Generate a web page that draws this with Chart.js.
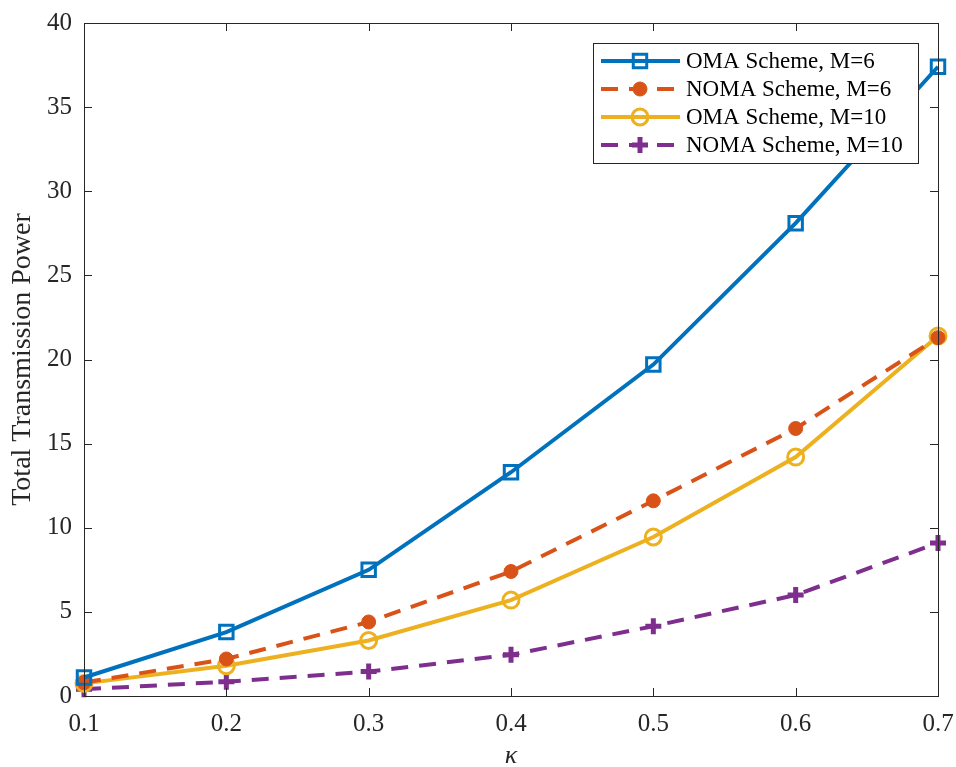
<!DOCTYPE html>
<html><head><meta charset="utf-8">
<script src="https://cdn.jsdelivr.net/npm/chart.js@4/dist/chart.umd.min.js"></script>
<style>html,body{margin:0;padding:0;background:#fff}#c{display:block}</style>
</head><body>
<canvas id="c" width="956" height="767"></canvas>
<script>
const kappa = [0.1, 0.2, 0.3, 0.4, 0.5, 0.6, 0.7];
const omaM6 = [1.1, 3.8, 7.5, 13.3, 19.7, 28.1, 37.4];
const nomaM6 = [0.8, 2.2, 4.4, 7.4, 11.6, 15.9, 21.3];
const omaM10 = [0.75, 1.8, 3.3, 5.7, 9.45, 14.2, 21.4];
const nomaM10 = [0.4, 0.85, 1.45, 2.45, 4.15, 6.0, 9.1];
const seriesNames = ['OMA Scheme, M=6', 'NOMA Scheme, M=6', 'OMA Scheme, M=10', 'NOMA Scheme, M=10'];
const yTicks = [0, 5, 10, 15, 20, 25, 30, 35, 40];

const FONT = "'Liberation Serif', 'Times New Roman', serif";
const pts = arr => kappa.map((k, i) => ({x: k, y: arr[i]}));

const styles = [
  {color: '#0072BD', dash: [], ps: 'rect', r: 9.5, fill: 'rgba(0,0,0,0)', bw: 3},
  {color: '#D95319', dash: [17, 11], ps: 'circle', r: 7, fill: '#D95319', bw: 1},
  {color: '#EDB120', dash: [], ps: 'circle', r: 8, fill: 'rgba(0,0,0,0)', bw: 3},
  {color: '#7E2F8E', dash: [17, 11], ps: 'cross', r: 8, fill: '#7E2F8E', bw: 5}
];
const dataArrs = [omaM6, nomaM6, omaM10, nomaM10];

const datasets = dataArrs.map((d, i) => ({
  label: seriesNames[i],
  data: pts(d),
  borderColor: styles[i].color,
  borderWidth: 4,
  borderDash: styles[i].dash,
  pointStyle: styles[i].ps,
  pointRadius: styles[i].r,
  pointHoverRadius: styles[i].r,
  pointBackgroundColor: styles[i].fill,
  pointBorderColor: styles[i].color,
  pointBorderWidth: styles[i].bw,
  tension: 0,
  clip: false,
  fill: false
}));

const framePlugin = {
  id: 'frame',
  afterDraw(chart) {
    const ctx = chart.ctx, a = chart.chartArea;
    const xs = chart.scales.x, ys = chart.scales.y;
    ctx.save();
    ctx.strokeStyle = '#262626';
    ctx.lineWidth = 1;
    ctx.strokeRect(Math.round(a.left) + 0.5, Math.round(a.top) + 0.5, Math.round(a.right - a.left), Math.round(a.bottom - a.top));
    const tl = 8;
    ctx.beginPath();
    kappa.forEach(k => {
      const px = Math.round(xs.getPixelForValue(k)) + 0.5;
      ctx.moveTo(px, a.bottom); ctx.lineTo(px, a.bottom - tl);
      ctx.moveTo(px, a.top); ctx.lineTo(px, a.top + tl);
    });
    yTicks.forEach(v => {
      const py = Math.round(ys.getPixelForValue(v)) + 0.5;
      ctx.moveTo(a.left, py); ctx.lineTo(a.left + tl, py);
      ctx.moveTo(a.right, py); ctx.lineTo(a.right - tl, py);
    });
    ctx.stroke();

    // legend
    const lx = 593, ly = 43, lw = 325, lh = 120;
    ctx.fillStyle = '#fff';
    ctx.fillRect(lx, ly, lw, lh);
    ctx.strokeStyle = '#262626';
    ctx.lineWidth = 1;
    ctx.strokeRect(lx + 0.5, ly + 0.5, lw, lh);
    const rows = [61, 89, 117, 145];
    ctx.font = '23px ' + FONT;
    ctx.textBaseline = 'middle';
    rows.forEach((ry, i) => {
      const s = styles[i];
      ctx.save();
      ctx.strokeStyle = s.color;
      ctx.lineWidth = 4;
      if (s.dash.length) ctx.setLineDash([17, 11]); else ctx.setLineDash([]);
      ctx.beginPath(); ctx.moveTo(601, ry); ctx.lineTo(680, ry); ctx.stroke();
      ctx.setLineDash([]);
      ctx.fillStyle = s.fill;
      ctx.lineWidth = s.bw;
      Chart.helpers.drawPoint(ctx, {pointStyle: s.ps, radius: s.r, borderWidth: s.bw, rotation: 0}, 640, ry);
      ctx.restore();
      ctx.fillStyle = '#000';
      ctx.fillText(seriesNames[i], 686, ry + 1);
    });
    ctx.restore();
  }
};

new Chart(document.getElementById('c'), {
  type: 'line',
  data: {datasets},
  options: {
    responsive: false,
    animation: false,
    devicePixelRatio: 1,
    layout: {padding: {left: 0, top: 23, right: 18, bottom: 0}},
    plugins: {legend: {display: false}, tooltip: {enabled: false}},
    scales: {
      x: {
        type: 'linear', min: 0.1, max: 0.7,
        afterFit: s => { s.height = 71; s.paddingLeft = 0; s.paddingRight = 0; },
        afterBuildTicks: s => { s.ticks = kappa.map(v => ({value: v})); },
        grid: {display: false, drawTicks: false},
        border: {display: false},
        ticks: {padding: 13, color: '#262626', font: {family: FONT, size: 25}, callback: v => Number(v).toFixed(1), maxRotation: 0},
        title: {display: true, text: 'κ', color: '#262626', font: {family: FONT, size: 26, style: 'italic', lineHeight: 0.8}, padding: {top: 0, bottom: 0}}
      },
      y: {
        type: 'linear', min: 0, max: 40,
        afterFit: s => { s.width = 84; s.paddingTop = 0; s.paddingBottom = 0; },
        afterBuildTicks: s => { s.ticks = yTicks.map(v => ({value: v})); },
        grid: {display: false, drawTicks: false},
        border: {display: false},
        ticks: {padding: 12, color: '#262626', font: {family: FONT, size: 25}},
        title: {display: true, text: 'Total Transmission Power', color: '#262626', font: {family: FONT, size: 28}, padding: {top: 6, bottom: 0}}
      }
    }
  },
  plugins: [framePlugin]
});
</script>
</body></html>
